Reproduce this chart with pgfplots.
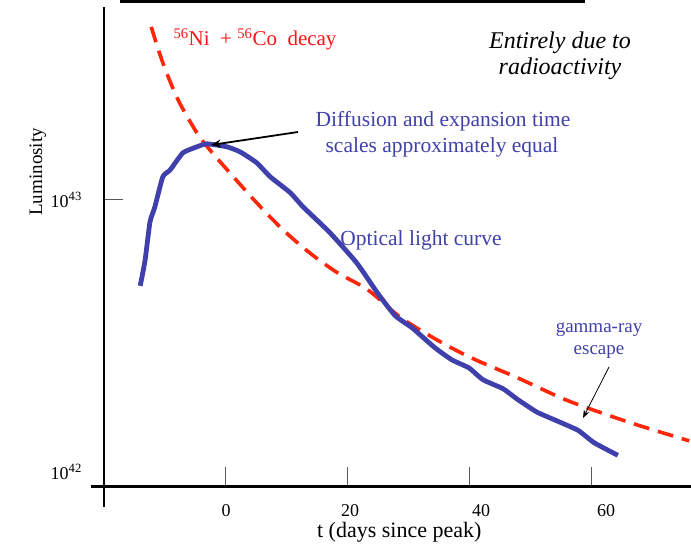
\documentclass[border=0pt]{standalone}
\usepackage{pgfplots}
\pgfplotsset{compat=1.18}
\usetikzlibrary{arrows.meta}
\usepackage{fontspec}
\setmainfont{Liberation Serif}[ItalicFont={Liberation Serif Italic}]
\definecolor{lcblue}{RGB}{64,64,172}
\definecolor{decayred}{RGB}{255,38,10}
\definecolor{txtred}{RGB}{250,20,20}
\newcommand\fs[1]{\fontsize{#1bp}{1.2\dimexpr#1bp\relax}\selectfont}
\begin{document}
\begin{tikzpicture}
\path[use as bounding box] (0bp,0bp) rectangle (691bp,548bp);
\begin{axis}[
  at={(104bp,61.5bp)}, anchor=south west,
  scale only axis, width=587bp, height=486.5bp,
  xmin=-19.84, xmax=76.39,
  ymode=log, ymin=8.845e41, ymax=5.436e43,
  axis x line*=bottom, axis y line*=left,
  axis line style={draw=none},
  xtick={0,20,40,60},
  xticklabels={{\fs{18}\hspace*{2bp}0},{\fs{18}\hspace*{6bp}20},{\fs{18}\hspace*{24bp}40},{\fs{18}\hspace*{30bp}60}},
  ytick={1e43}, yticklabels={{\fs{18}10\textsuperscript{43}}},
  extra y ticks={1e42}, extra y tick labels={{\fs{18}10\textsuperscript{42}}},
  extra y tick style={major tick length=0pt},
  yminorticks=false, xminorticks=false,
  tick align=inside, major tick length=19bp,
  tick style={black!65, line width=0.9bp},
  xticklabel style={inner sep=0pt, anchor=north, yshift=-18bp},
  yticklabel style={inner sep=0pt, anchor=east, xshift=-22bp},
  xlabel={t (days since peak)},
  xlabel style={at={(axis description cs:0.503,-0.1059)}, anchor=base, font=\fs{22}},
  ylabel={Luminosity},
  ylabel style={at={(axis description cs:-0.1056,0.6465)}, anchor=base, font=\fs{19}},
]
\addplot[decayred, line width=3.6bp, dash pattern=on 16bp off 9bp, smooth] coordinates {
(-12.1,43.25e42) (-10.2,31.92e42) (-7.7,23.33e42) (-4.6,17.62e42) (-2.5,15.28e42)
(0.8,12.56e42) (5.2,9.75e42) (9.5,7.76e42) (13.9,6.38e42) (18.4,5.40e42)
(23.4,4.67e42) (28.9,3.68e42) (35.6,2.98e42) (41.1,2.58e42) (47.9,2.22e42)
(55.6,1.85e42) (62.3,1.63e42) (67.9,1.48e42) (76.1,1.30e42)
};
\addplot[lcblue, line width=4.8bp, line join=round, smooth, tension=0.3] coordinates {
(-13.9,4.83e42) (-13.1,6.01e42) (-12.3,8.30e42) (-11.5,9.42e42) (-10.2,12.16e42)
(-9.0,12.88e42) (-6.9,14.89e42) (-4.6,15.67e42) (-3.0,16.07e42) (0.3,15.67e42)
(2.5,15.00e42) (5.2,13.68e42) (7.4,12.16e42) (10.7,10.62e42) (12.8,9.42e42)
(17.2,7.57e42) (21.6,5.86e42) (25.1,4.51e42) (27.9,3.75e42) (30.7,3.38e42)
(34.4,2.86e42) (37.2,2.58e42) (40.0,2.41e42) (42.3,2.18e42) (45.6,2.02e42)
(47.9,1.85e42) (51.1,1.66e42) (54.4,1.54e42) (57.9,1.42e42) (60.5,1.28e42)
(64.4,1.15e42)
};
\end{axis}
% axis lines
\draw[line width=2.6bp] (91bp,61.5bp) -- (691bp,61.5bp);
\draw[line width=2.6bp] (104bp,41bp) -- (104bp,541bp);
\draw[line width=3bp] (120bp,546.5bp) -- (585bp,546.5bp);
% annotations
\node[anchor=base, text=txtred, font=\fs{21}, inner sep=0pt] at (255bp,502bp)
  {\textsuperscript{56}Ni\ \ +\ \textsuperscript{56}Co\ \ decay};
\node[anchor=base, font=\fs{24}\itshape, inner sep=0pt] at (560bp,499bp) {Entirely due to};
\node[anchor=base, font=\fs{24}\itshape, inner sep=0pt] at (560bp,473bp) {radioactivity};
\node[anchor=base, text=lcblue, font=\fs{21.5}, inner sep=0pt] at (443bp,421bp) {Diffusion and expansion time};
\node[anchor=base, text=lcblue, font=\fs{21.5}, inner sep=0pt] at (442bp,395bp) {scales approximately equal};
\node[anchor=base, text=lcblue, font=\fs{21.5}, inner sep=0pt] at (421bp,302bp) {Optical light curve};
\node[anchor=base, text=lcblue, font=\fs{19}, inner sep=0pt] at (599bp,215bp) {gamma-ray};
\node[anchor=base, text=lcblue, font=\fs{19}, inner sep=0pt] at (599bp,193bp) {escape};
\draw[-{Stealth[length=10bp,width=8bp]}, line width=1.8bp] (298bp,416bp) -- (211bp,403bp);
\draw[-{Stealth[length=8bp,width=6bp]}, line width=0.8bp] (609bp,181bp) -- (583bp,130bp);
\end{tikzpicture}
\end{document}
